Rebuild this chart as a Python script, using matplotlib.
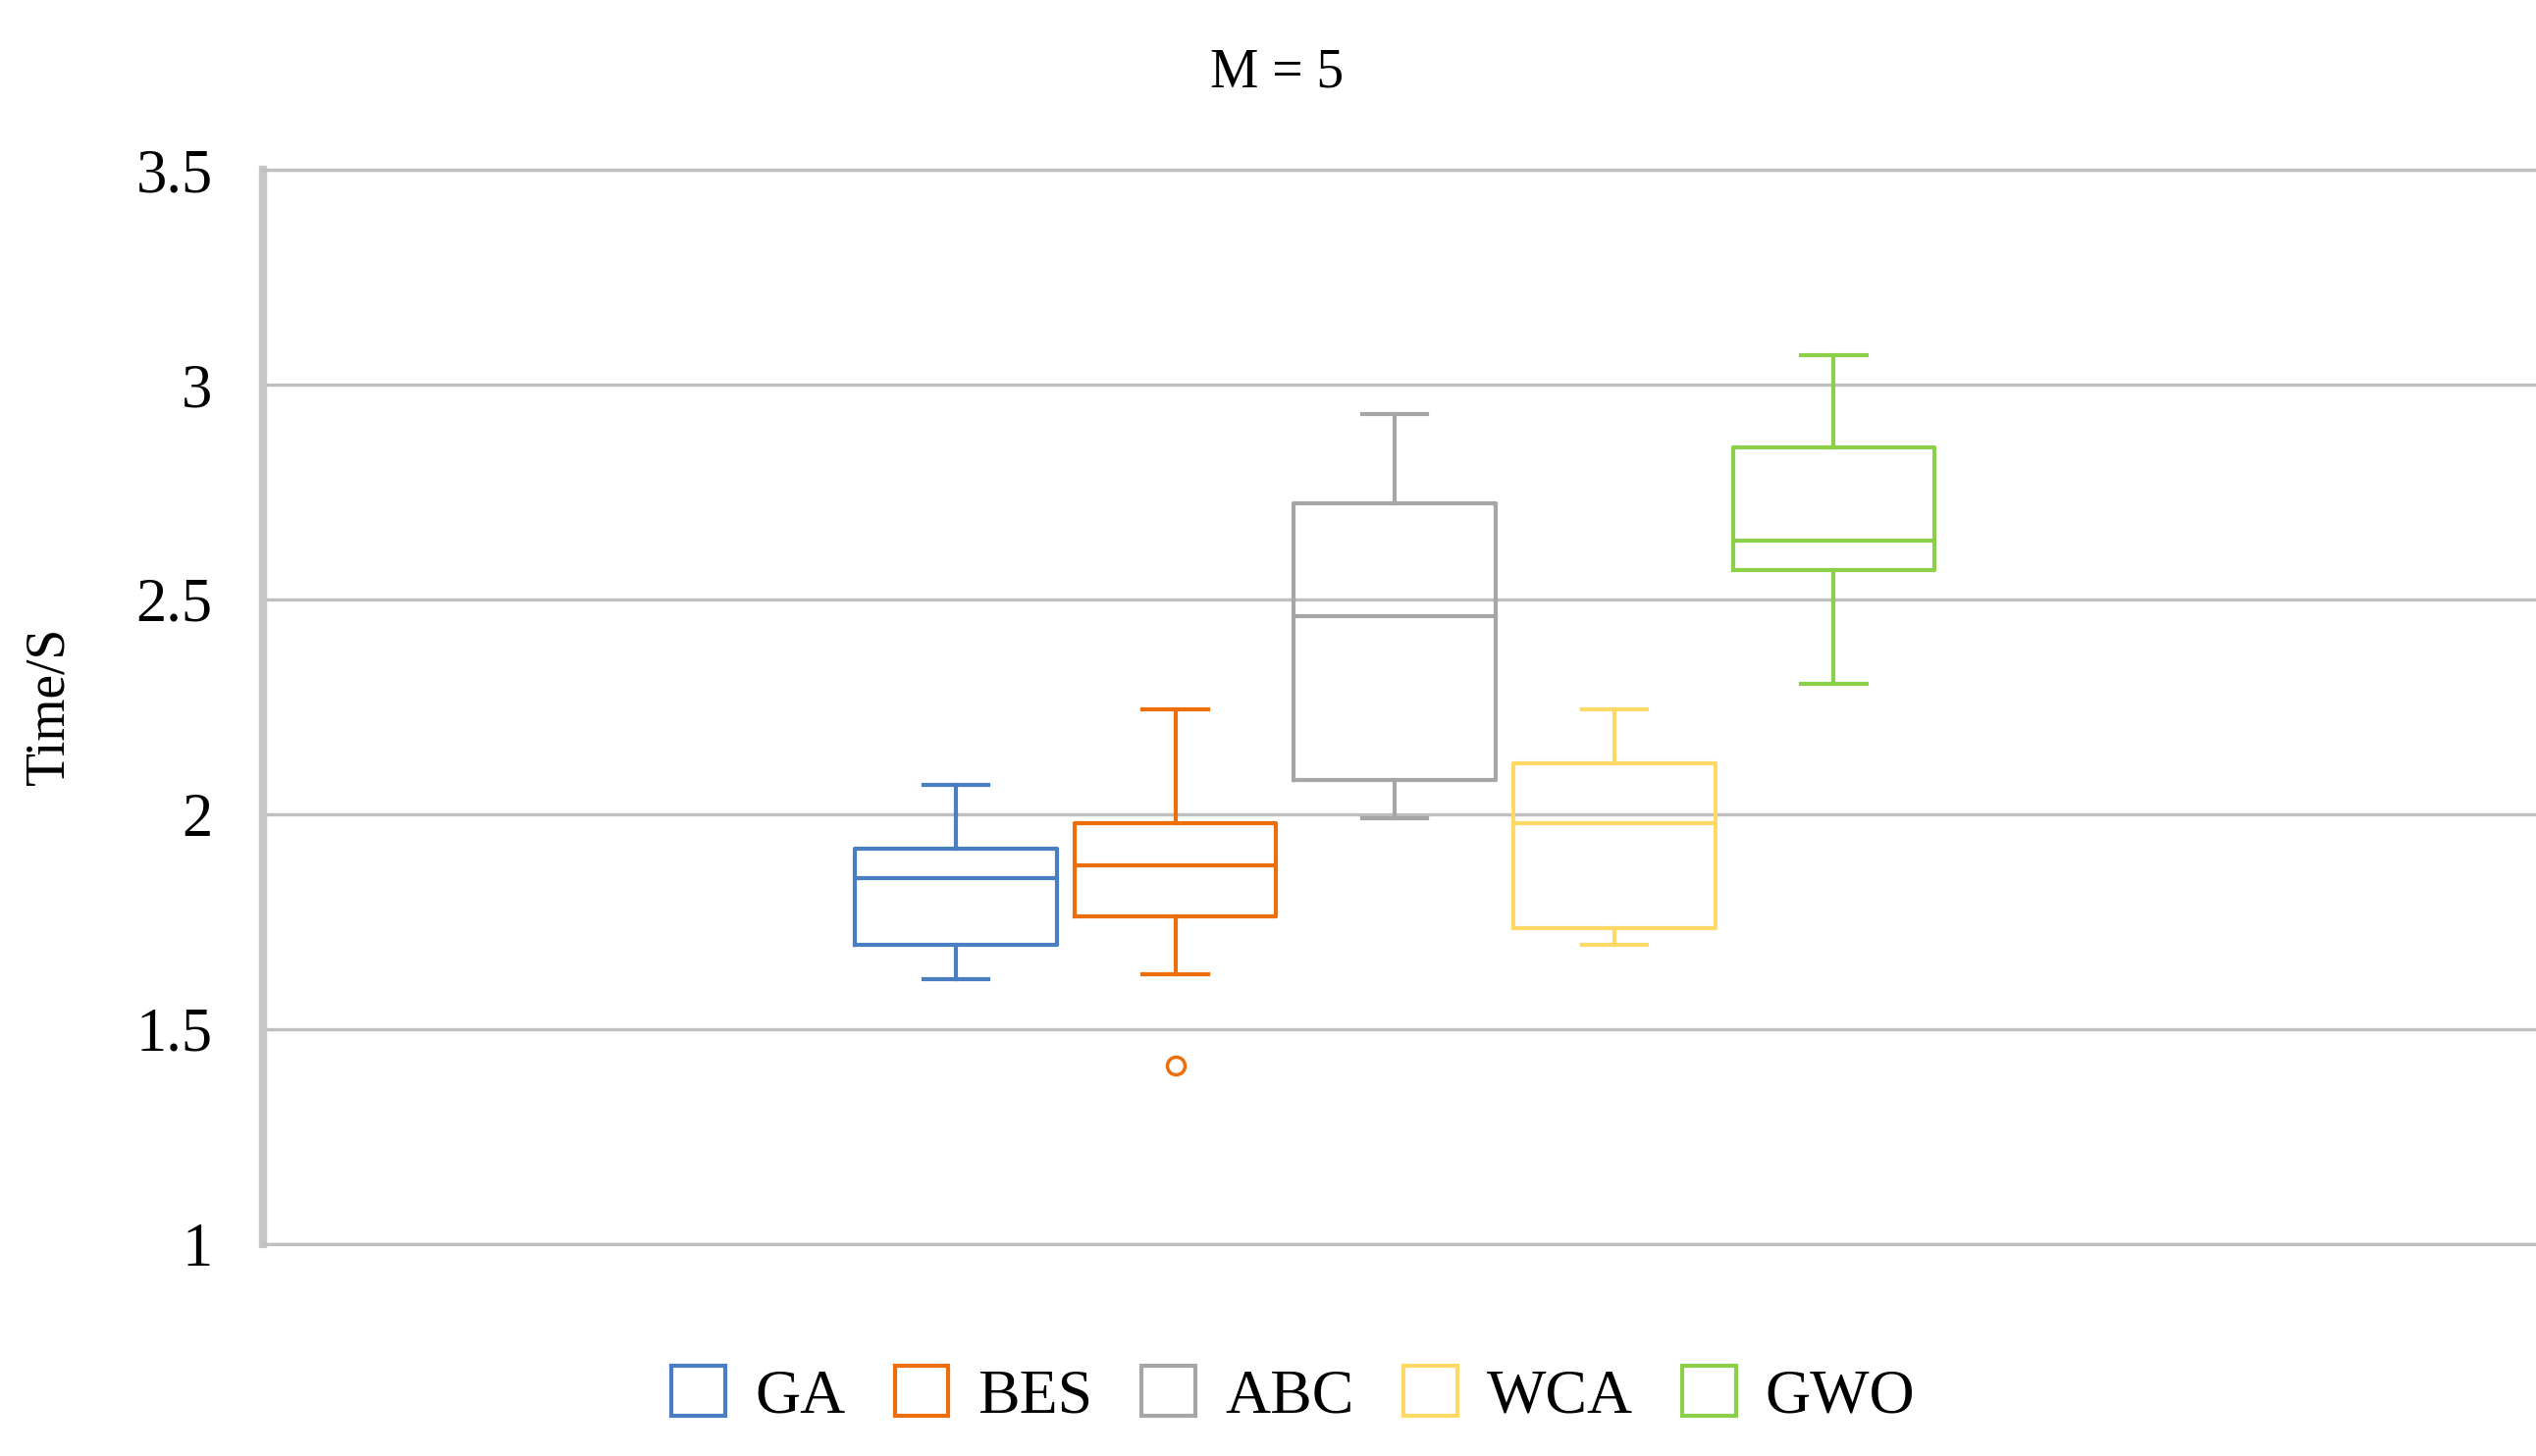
import matplotlib
matplotlib.use("Agg")
import matplotlib.pyplot as plt
from matplotlib.patches import Rectangle

# Box plot statistics (Time/S, M = 5)
algorithms = ["GA", "BES", "ABC", "WCA", "GWO"]
whisker_low = [1.617, 1.627, 1.990, 1.696, 2.304]
q1 = [1.696, 1.763, 2.079, 1.735, 2.569]
median = [1.852, 1.882, 2.461, 1.980, 2.637]
q3 = [1.920, 1.979, 2.724, 2.118, 2.853]
whisker_high = [2.068, 2.245, 2.931, 2.245, 3.069]
outliers = [[], [1.415], [], [], []]

colors = ["#4A7EC2", "#EC6F0C", "#A6A6A6", "#FFD966", "#8CD04A"]

y_ticks = [1, 1.5, 2, 2.5, 3, 3.5]
y_tick_labels = ["1", "1.5", "2", "2.5", "3", "3.5"]

plt.rcParams["font.family"] = ["Liberation Serif", "DejaVu Serif"]

fig = plt.figure(figsize=(25.84, 14.84), dpi=100)
ax = fig.add_axes([0.1037, 0.1456, 1 - 0.1037, 0.8834 - 0.1456])

stats = []
for i, name in enumerate(algorithms):
    stats.append({
        "label": name,
        "whislo": whisker_low[i],
        "q1": q1[i],
        "med": median[i],
        "q3": q3[i],
        "whishi": whisker_high[i],
        "fliers": outliers[i],
    })

positions = [i - 2 for i in range(len(algorithms))]
bp = ax.bxp(stats, positions=positions, widths=0.92, showfliers=True,
            patch_artist=False, manage_ticks=False)

for i, c in enumerate(colors):
    bp["boxes"][i].set(color=c, linewidth=3.0)
    bp["medians"][i].set(color=c, linewidth=3.0)
    for w in bp["whiskers"][2 * i:2 * i + 2]:
        w.set(color=c, linewidth=3.0)
    for cap in bp["caps"][2 * i:2 * i + 2]:
        cap.set(color=c, linewidth=3.0)
        xd = cap.get_xdata()
        mid = (xd[0] + xd[1]) / 2
        cap.set_xdata([mid - 0.148, mid + 0.148])
    bp["fliers"][i].set(marker="o", markerfacecolor="none",
                        markeredgecolor=c, markeredgewidth=2.5, markersize=13)

ax.set_xlim(-5.157, 5.2)
ax.set_ylim(1, 3.5)
ax.set_yticks(y_ticks)
ax.set_yticklabels(y_tick_labels)
ax.set_xticks([])
ax.tick_params(axis="y", length=0, pad=37, labelsize=45)

ax.yaxis.grid(True, color="#BFBFBF", linewidth=2.4)
ax.set_axisbelow(True)
for side in ["top", "bottom"]:
    ax.spines[side].set_color("#BFBFBF")
    ax.spines[side].set_linewidth(2.4)
ax.spines["right"].set_visible(False)
ax.spines["left"].set_color("#C6C6C6")
ax.spines["left"].set_linewidth(6)

fig.text(0.5035, 0.950, "M = 5", ha="center", va="center", fontsize=40)
fig.text(0.0194, 0.515, "Time/S", ha="center", va="center", rotation=90,
         fontsize=40)

handles = [Rectangle((0, 0), 1, 1, facecolor="white", edgecolor=c, linewidth=3.0)
           for c in colors]
fig.legend(handles, algorithms, loc="center", bbox_to_anchor=(0.51, 1 - 1423 / 1484),
           ncol=5, frameon=False, fontsize=46, handlelength=0.86, handleheight=0.86,
           handletextpad=0.47, columnspacing=0.78)

fig.savefig("out.png", dpi=100)
